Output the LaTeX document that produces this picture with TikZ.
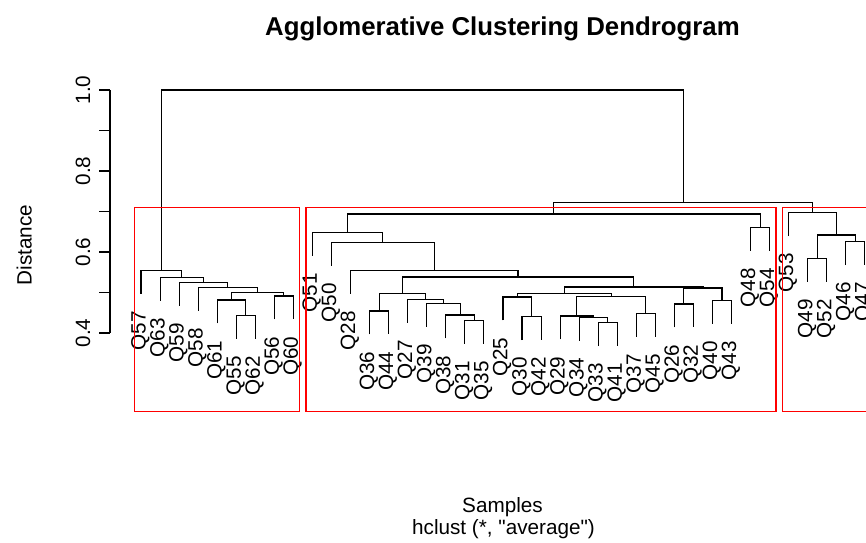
\documentclass[tikz,border=0pt]{standalone}
\usepackage{fontspec}
\setmainfont{Liberation Sans}
\definecolor{cutred}{HTML}{FF0000}
\tikzset{
  every node/.style={font=\fontsize{20.7}{24}\selectfont,inner sep=0pt},
  title/.style={font=\bfseries\fontsize{25.8}{29}\selectfont,anchor=base},
  branch/.style={line width=1.1pt,draw=black},
  cutbox/.style={line width=1.2pt,draw=cutred},
  leaflabel/.style={rotate=90,anchor=base east},
  ticklabel/.style={rotate=90,anchor=base},
}

\begin{document}
\begin{tikzpicture}[x=1pt,y=1pt]
\clip (0,0) rectangle (866,542);
\node[title] (title) at (502.5,506) {Agglomerative Clustering Dendrogram};
\node[anchor=base] (xlab) at (502.5,30) {Samples};
\node[anchor=base] (sublab) at (503.5,8) {hclust (*, \textquotedbl average\textquotedbl)};
\node[ticklabel] (ylab) at (31.7,297) {Distance};
% distance axis
\draw[branch] (110,209) -- (110,452);
\foreach \k in {0,...,6}{
  \draw[branch] (99,{209+40.5*\k}) -- (110,{209+40.5*\k});
}
\foreach \t/\k in {0.4/0,0.6/2,0.8/4,1.0/6}{
  \node[ticklabel] (tick\k) at (90,{209+40.5*\k}) {\t};
}
\begin{scope}[shift={(121.95pt,47pt)},x=19.05pt,y=405pt]
% leaves: index / label / height of the merge above
\foreach \i/\q/\h in {1/Q57/.5538,2/Q63/.5375,3/Q59/.5252,4/Q58/.5128,5/Q61/.4815,
    6/Q55/.4427,7/Q62/.4427,8/Q56/.4914,9/Q60/.4914,
    10/Q51/.6486,11/Q50/.6230,12/Q28/.5548,13/Q36/.4543,14/Q44/.4543,15/Q27/.4832,
    16/Q39/.4733,17/Q38/.4444,18/Q31/.4304,19/Q35/.4304,20/Q25/.4889,21/Q30/.4402,
    22/Q42/.4402,23/Q29/.4420,24/Q34/.4388,25/Q33/.4254,26/Q41/.4254,27/Q37/.4486,
    28/Q45/.4486,29/Q26/.4716,30/Q32/.4716,31/Q40/.4798,32/Q43/.4798,33/Q48/.6605,
    34/Q54/.6605,35/Q53/.6970,36/Q49/.5844,37/Q52/.5844,38/Q46/.6254,39/Q47/.6254}{
  \coordinate (\q) at (\i,{\h-.0575});
  \node[leaflabel] (n\q) at ([xshift=4.5pt,yshift=-17.2pt]\q) {\q};
}
% merges, children first
\foreach \m/\a/\b/\x/\h in {a1/Q55/Q62/6.5/.4427,a2/Q61/a1/5.75/.4815,a3/Q56/Q60/8.5/.4914,
    a4/a2/a3/7.125/.4995,a5/Q58/a4/5.5625/.5128,a6/Q59/a5/4.28125/.5252,
    a7/Q63/a6/3.140625/.5375,a8/Q57/a7/2.0703125/.5538,
    b1/Q31/Q35/18.5/.4304,b2/Q38/b1/17.75/.4444,b3/Q39/b2/16.875/.4733,
    b4/Q27/b3/15.9375/.4832,b5/Q36/Q44/13.5/.4543,b6/b5/b4/14.71875/.4980,
    c1/Q30/Q42/21.5/.4402,c2/Q25/c1/20.75/.4889,c3/Q33/Q41/25.5/.4254,
    c4/Q34/c3/24.75/.4388,c5/Q29/c4/23.875/.4420,c6/Q37/Q45/27.5/.4486,
    c7/c5/c6/25.6875/.4896,c8/c2/c7/23.21875/.4975,
    d1/Q26/Q32/29.5/.4716,d2/Q40/Q43/31.5/.4798,d3/d1/d2/30.5/.5111,
    d4/c8/d3/26.859375/.5136,e1/b6/d4/20.7890625/.5383,e2/Q28/e1/16.39453/.5548,
    e3/Q50/e2/13.69727/.6230,e4/Q51/e3/11.84863/.6486,e5/Q48/Q54/33.5/.6605,
    e6/e4/e5/22.67432/.6938,
    f1/Q49/Q52/36.5/.5844,f2/Q46/Q47/38.5/.6254,f3/f1/f2/37.5/.6420,
    f4/Q53/f3/36.25/.6970,g1/e6/f4/29.46216/.7232,root/a8/g1/15.76624/1.0}{
  \coordinate (\m) at (\x,\h);
  \draw[branch] (\a) |- (\m) -| (\b);
}
% three clusters cut from the tree
\foreach \l/\r in {.66/9.33,9.66/34.33,34.66/39.33}{
  \draw[cutbox] (\l,.2057) rectangle (\r,.7101);
}
\end{scope}
\end{tikzpicture}
\end{document}
